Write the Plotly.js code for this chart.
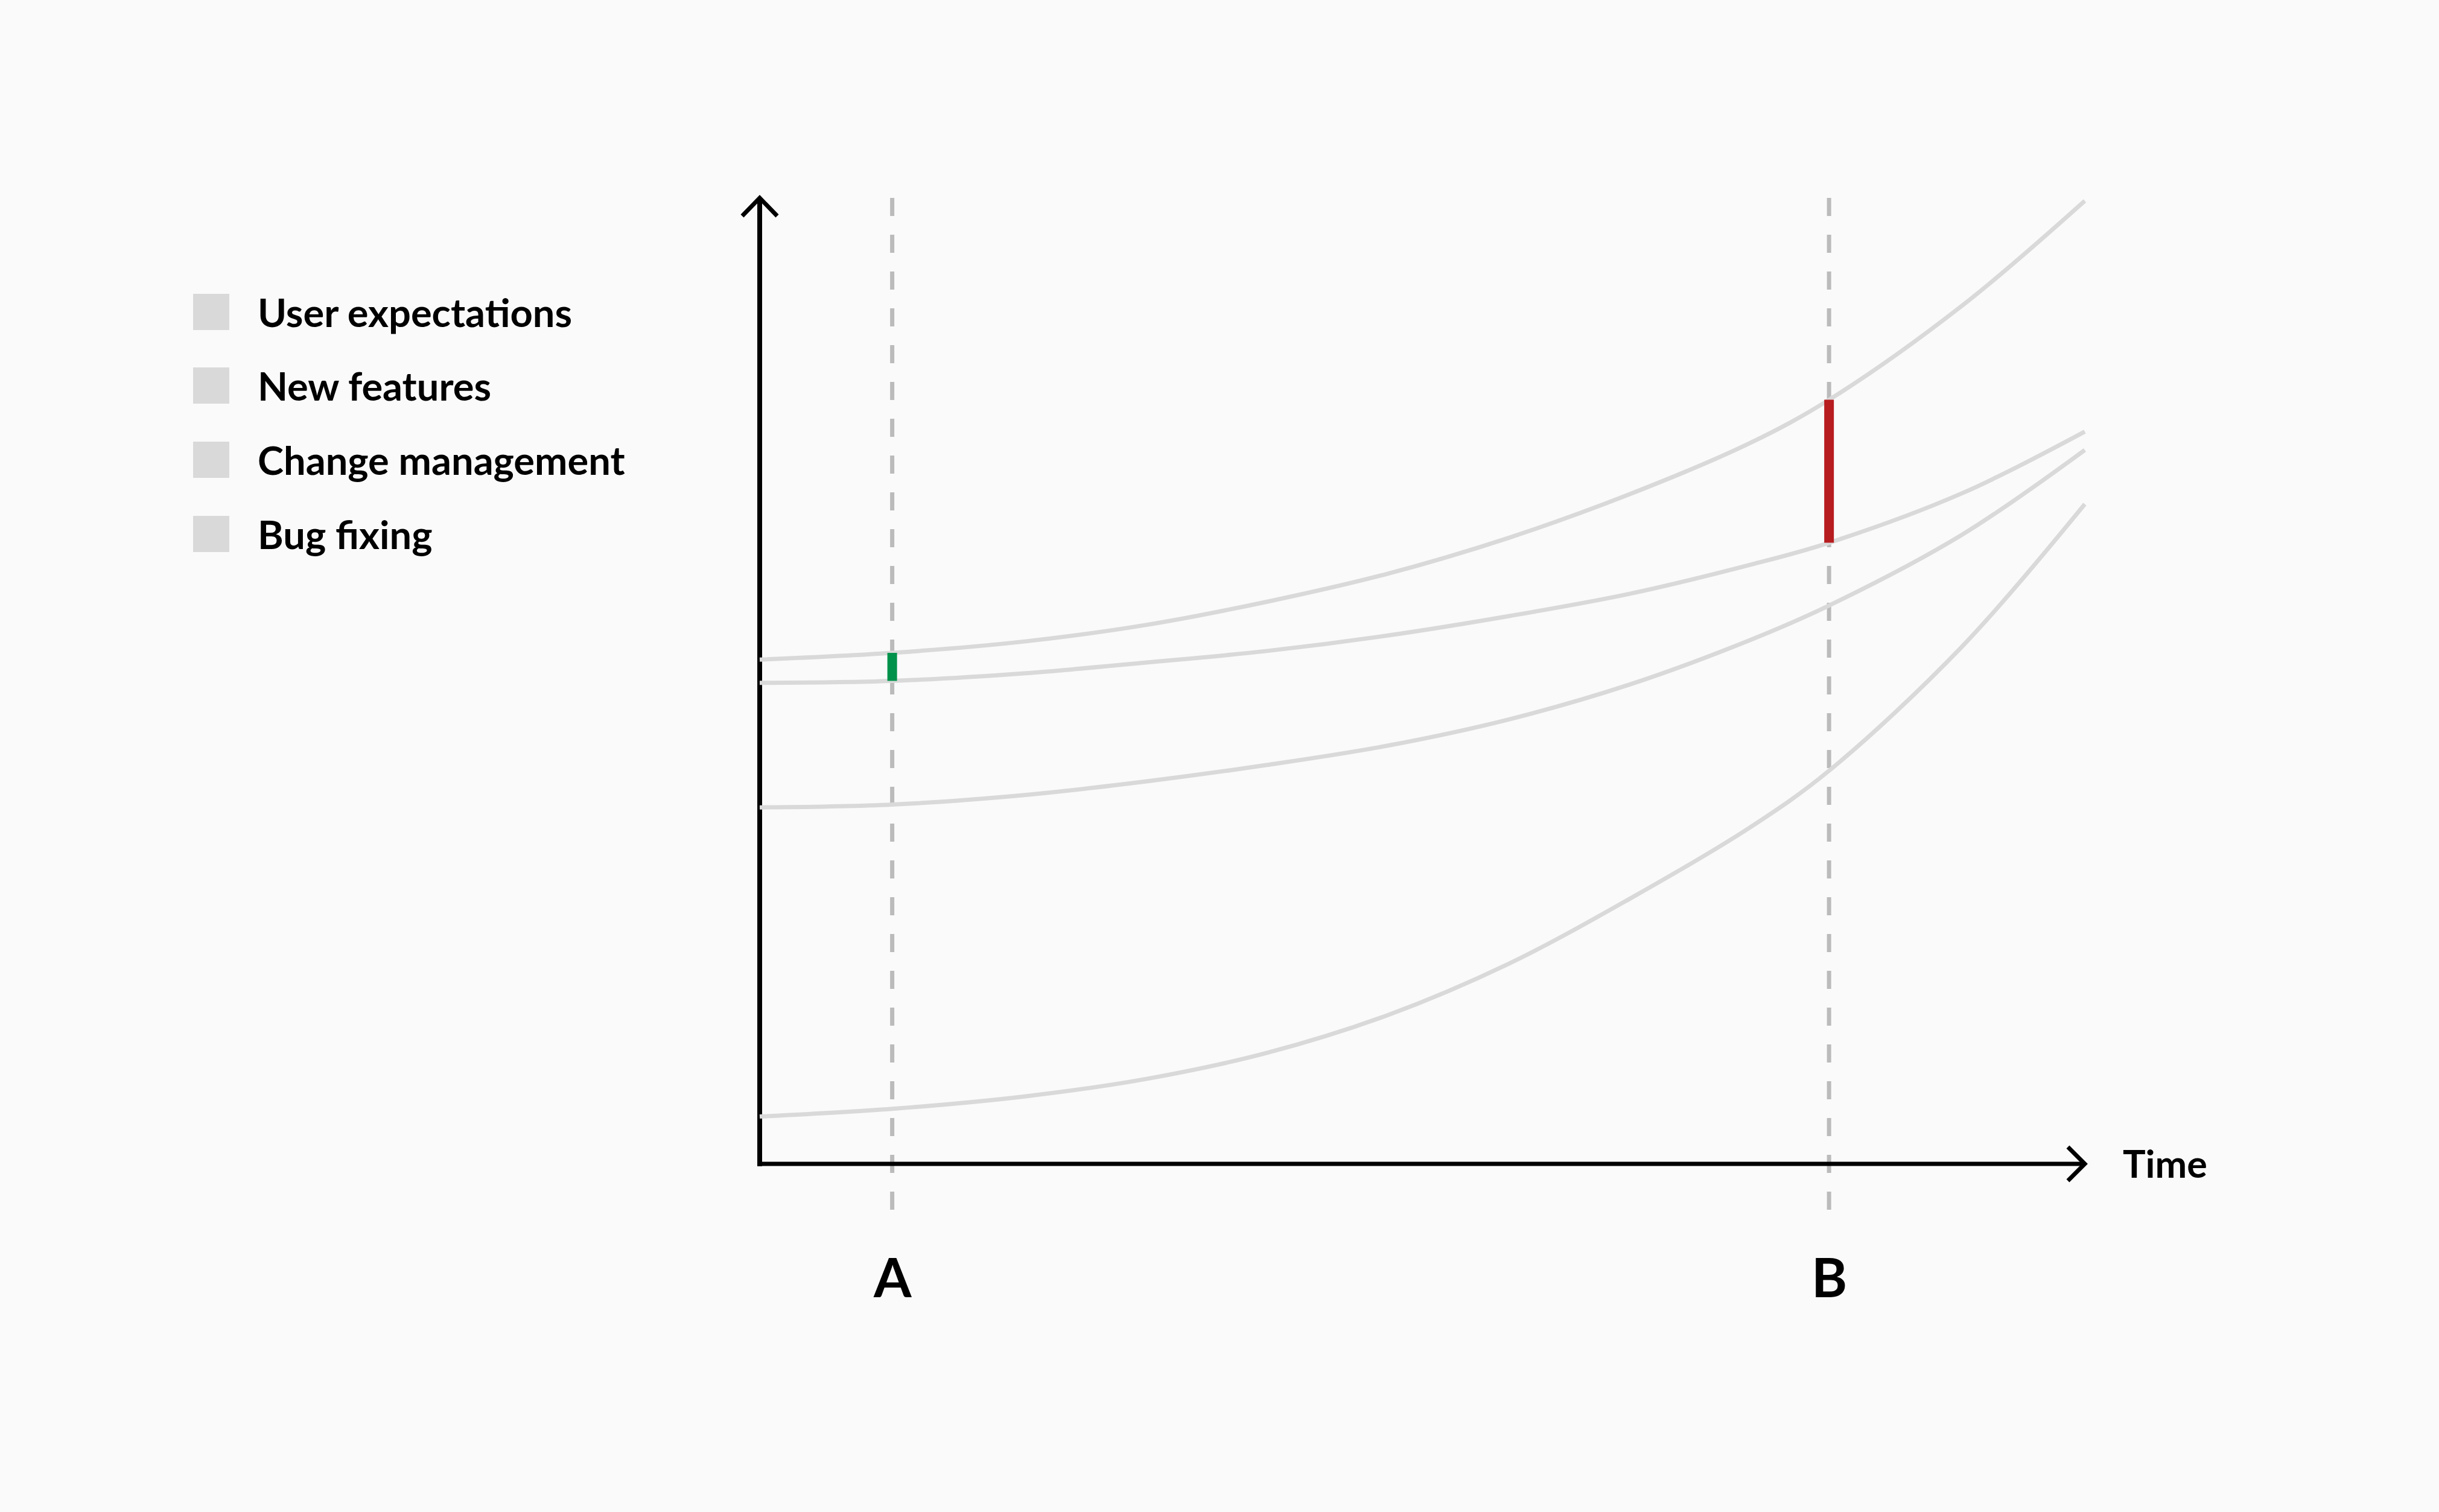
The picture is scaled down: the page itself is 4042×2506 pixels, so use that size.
<!DOCTYPE html>
<html>
<head>
<meta charset="utf-8">
<script src="https://cdn.plot.ly/plotly-3.0.1.min.js"></script>
<style>
    html, body { margin: 0; padding: 0; background: #fafafa; }
    #chart { width: 4042px; height: 2506px; }
</style>
</head>
<body>
<div id="chart"></div>
<script>
// time points the curves were read at (0 = vertical axis, 100 = end of time axis)
const timePoints = [0, 10, 20.1, 29.2, 38.3, 47.4, 56.5, 65.6, 74.7, 80.7, 90.7, 100]

// series values (0 = time axis, 100 = top of vertical axis)
const userExpectations = [52.2, 52.9, 54.1, 55.8, 58.2, 61.1, 64.8, 69.3, 74.6, 79.1, 88.8, 99.7]
const newFeatures      = [49.8, 50.0, 50.8, 51.9, 53.1, 54.7, 56.7, 59.0, 62.0, 64.3, 69.4, 75.8]
const changeManagement = [36.9, 37.2, 38.2, 39.6, 41.3, 43.3, 46.0, 49.6, 54.2, 57.8, 65.1, 73.9]
const bugFixing        = [4.9, 5.7, 7.0, 8.8, 11.5, 15.4, 20.7, 27.4, 34.8, 40.7, 53.5, 68.3]

const seriesNames = ["User expectations", "New features", "Change management", "Bug fixing"]

// moments A and B, and where they sit in timePoints
const markerLabels = ["A", "B"]
const markerIndex = [1, 9]
const markerColors = ["#00914a", "#b71c1f"]

const axisLabel = "Time"

function draw()
{
    const W = 4042
    const H = 2506

    // pixel frame of the drawn axes
    const x0px = 1259, x1px = 3455
    const y0px = 1929, y1px = 328
    const pxPerX = (x1px - x0px) / 100
    const pxPerY = (y0px - y1px) / 100

    const font = "Lato, 'Open Sans', sans-serif"
    const curveColor = "#d9d9d9"

    const px2paperX = (px) => px / W
    const px2paperY = (py) => 1 - py / H

    const series = [userExpectations, newFeatures, changeManagement, bugFixing]

    const data = series.map((values, i) => ({
        x: timePoints,
        y: values,
        mode: 'lines',
        name: seriesNames[i],
        line: { color: curveColor, width: 7, shape: 'spline', smoothing: 1 },
        hoverinfo: 'skip',
        showlegend: false,
    }))

    // gap between expectations and delivered features at A and B
    markerIndex.forEach((idx, i) => {
        data.push({
            x: [timePoints[idx], timePoints[idx]],
            y: [newFeatures[idx], userExpectations[idx]],
            mode: 'lines',
            line: { color: markerColors[i], width: 16 },
            hoverinfo: 'skip',
            showlegend: false,
        })
    })

    const shapes = []

    // dashed guides at A and B
    markerIndex.forEach((idx) => {
        shapes.push({
            type: 'line', layer: 'below',
            xref: 'x', yref: 'y',
            x0: timePoints[idx], x1: timePoints[idx],
            y0: 100, y1: -6.4,
            line: { color: '#bbbbbb', width: 7, dash: '30px,31px' },
        })
    })

    // axes
    shapes.push({
        type: 'line', layer: 'below', xref: 'x', yref: 'y',
        x0: 0, x1: 0, y0: -4 / pxPerY, y1: 100,
        line: { color: '#000000', width: 8 },
    })
    shapes.push({
        type: 'line', layer: 'below', xref: 'x', yref: 'y',
        x0: -4 / pxPerX, x1: 100, y0: 0, y1: 0,
        line: { color: '#000000', width: 7 },
    })

    // arrow heads
    shapes.push({
        type: 'path', layer: 'below', xref: 'x', yref: 'y',
        path: `M ${-29 / pxPerX} ${100 - 30 / pxPerY} L 0 100 L ${29 / pxPerX} ${100 - 30 / pxPerY}`,
        line: { color: '#000000', width: 7 },
    })
    shapes.push({
        type: 'path', layer: 'below', xref: 'x', yref: 'y',
        path: `M ${100 - 28 / pxPerX} ${28 / pxPerY} L 100 0 L ${100 - 28 / pxPerX} ${-28 / pxPerY}`,
        line: { color: '#000000', width: 7 },
    })

    const annotations = []

    // legend
    const legendRows = [517, 639, 762, 885]
    seriesNames.forEach((name, i) => {
        const c = legendRows[i]
        shapes.push({
            type: 'rect', xref: 'paper', yref: 'paper',
            x0: px2paperX(320), x1: px2paperX(380),
            y0: px2paperY(c + 30), y1: px2paperY(c - 30),
            fillcolor: curveColor, line: { width: 0 },
        })
        annotations.push({
            xref: 'paper', yref: 'paper',
            x: px2paperX(425), y: px2paperY(c),
            xanchor: 'left', yanchor: 'middle',
            text: '<b>' + name + '</b>', showarrow: false,
            font: { family: font, size: 65, color: '#000000' },
        })
    })

    // A / B labels
    markerIndex.forEach((idx, i) => {
        annotations.push({
            xref: 'x', yref: 'y',
            x: timePoints[idx], y: (y0px - 2115) / pxPerY,
            xanchor: 'center', yanchor: 'middle',
            text: '<b>' + markerLabels[i] + '</b>', showarrow: false,
            font: { family: font, size: 90, color: '#000000' },
        })
    })

    // time axis label
    annotations.push({
        xref: 'x', yref: 'y',
        x: (3516 - x0px) / pxPerX, y: (y0px - 1927) / pxPerY,
        xanchor: 'left', yanchor: 'middle',
        text: '<b>' + axisLabel + '</b>', showarrow: false,
        font: { family: font, size: 63, color: '#000000' },
    })

    const layout = {
        width: W,
        height: H,
        autosize: false,
        margin: { l: 0, r: 0, t: 0, b: 0, pad: 0 },
        paper_bgcolor: '#fafafa',
        plot_bgcolor: '#fafafa',
        showlegend: false,
        xaxis: { visible: false, range: [-x0px / pxPerX, (W - x0px) / pxPerX], fixedrange: true },
        yaxis: { visible: false, range: [-(H - y0px) / pxPerY, y0px / pxPerY], fixedrange: true },
        shapes: shapes,
        annotations: annotations,
    }

    Plotly.newPlot("chart", data, layout, { displayModeBar: false, staticPlot: true })
}

draw()
</script>
</body>
</html>
